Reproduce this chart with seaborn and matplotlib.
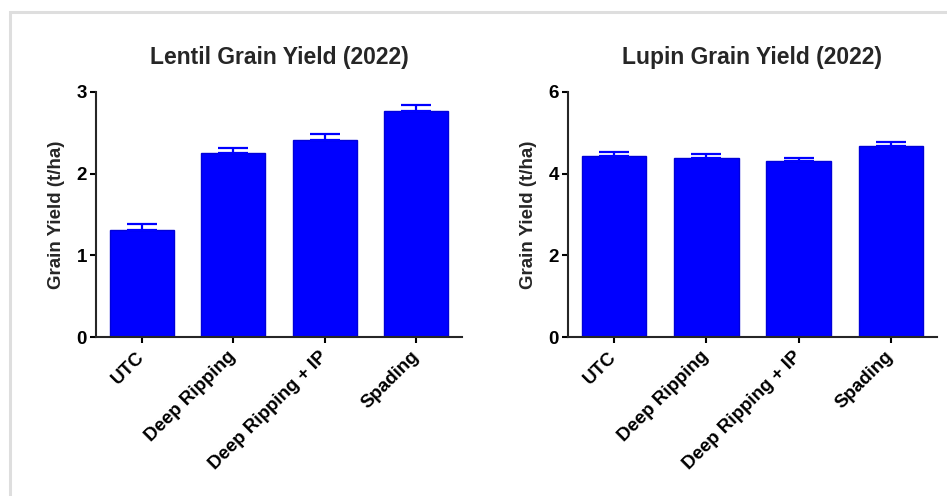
import matplotlib
matplotlib.use("Agg")
import matplotlib.pyplot as plt
from matplotlib.patches import Rectangle
import pandas as pd
import seaborn as sns

treatments = ["UTC", "Deep Ripping", "Deep Ripping + IP", "Spading"]
lentil_yield = [1.31, 2.25, 2.41, 2.77]
lentil_err = [0.07, 0.07, 0.08, 0.07]
lupin_yield = [4.43, 4.39, 4.30, 4.68]
lupin_err = [0.09, 0.09, 0.08, 0.10]

lentil_ticks = [0, 1, 2, 3]
lupin_ticks = [0, 2, 4, 6]

sns.set_style("ticks")
plt.rcParams["font.family"] = ["Liberation Sans", "DejaVu Sans"]
plt.rcParams["font.weight"] = "bold"
plt.rcParams["axes.linewidth"] = 1.5

BLUE = "#0000ff"

fig = plt.figure(figsize=(9.47, 4.96), dpi=100)
ax1 = fig.add_axes([96 / 947, 159 / 496, 366 / 947, 245 / 496])
ax2 = fig.add_axes([568 / 947, 159 / 496, 369 / 947, 245 / 496])


def draw_panel(ax, vals, errs, ticks, title):
    df = pd.DataFrame({"treatment": treatments, "grain": vals})
    sns.barplot(data=df, x="treatment", y="grain", color=BLUE, saturation=1,
                width=0.7, edgecolor="#0000d8", linewidth=1, errorbar=None, ax=ax)
    ax.errorbar(range(len(vals)), vals, yerr=[[0] * len(errs), errs], fmt="none",
                ecolor=BLUE, elinewidth=1.6, capsize=10.5, capthick=1.6, zorder=1)
    ax.set_xlim(-0.5, len(vals) - 0.5)
    ax.set_ylim(ticks[0], ticks[-1])
    ax.set_yticks(ticks)
    ax.set_title(title, fontsize=16.5, fontweight="bold", pad=20)
    ax.set_xlabel("")
    ax.set_ylabel("Grain Yield (t/ha)", fontsize=13.5, fontweight="bold", labelpad=8)
    ax.tick_params(axis="both", width=1.5, length=4.5, labelsize=13.5, colors="black")
    ax.tick_params(axis="y", pad=2)
    plt.setp(ax.get_xticklabels(), rotation=45, ha="right", va="center",
             rotation_mode="anchor", fontweight="bold")
    for lab in ax.get_yticklabels():
        lab.set_fontweight("bold")
    for tick in ax.xaxis.get_major_ticks():
        tick.set_pad(8)
    sns.despine(ax=ax)


draw_panel(ax1, lentil_yield, lentil_err, lentil_ticks, "Lentil Grain Yield (2022)")
draw_panel(ax2, lupin_yield, lupin_err, lupin_ticks, "Lupin Grain Yield (2022)")

# grey frame of the screenshot (top and left edges only)
fig.add_artist(Rectangle((9.5 / 947, -0.2), 1.2, 484 / 496 + 0.2, transform=fig.transFigure,
                         fill=False, edgecolor="#dedede", linewidth=2.2))

fig.savefig("out.png", dpi=100)
